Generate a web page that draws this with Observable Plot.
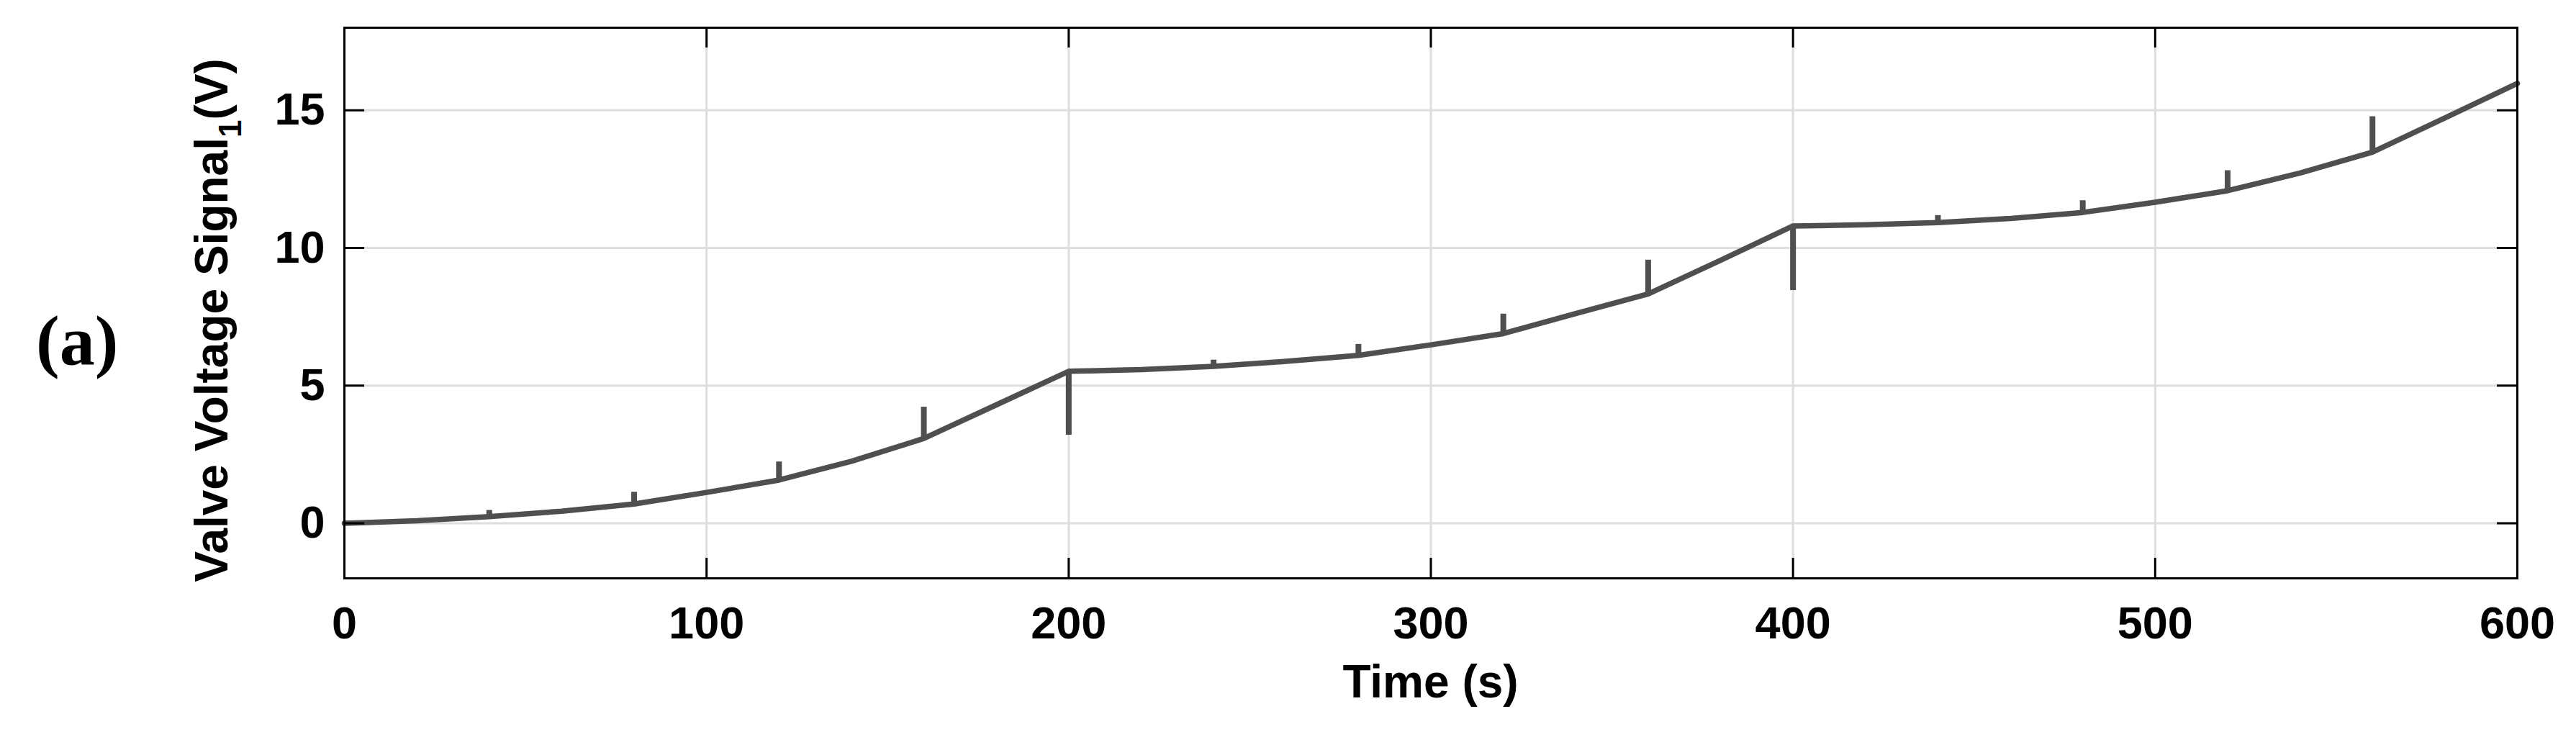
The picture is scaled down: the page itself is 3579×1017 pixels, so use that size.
<!DOCTYPE html>
<html>
<head>
<meta charset="utf-8">
<script src="https://cdn.jsdelivr.net/npm/d3@7"></script>
<script src="https://cdn.jsdelivr.net/npm/@observablehq/plot@0.6"></script>
<style>
  html, body { margin: 0; padding: 0; background: #fff; }
  #chart svg { display: block; }
</style>
</head>
<body>
<div id="chart"></div>
<script>
// ---- data ----
const time    = [0, 20, 40, 60, 80, 100, 120, 140, 160, 180, 200, 220, 240, 260, 280, 300, 320, 340, 360, 380, 400, 420, 440, 460, 480, 500, 520, 540, 560, 580, 600];
const voltage = [0, 0.09, 0.24, 0.44, 0.70, 1.12, 1.57, 2.25, 3.08, 4.30, 5.52, 5.58, 5.70, 5.88, 6.10, 6.48, 6.89, 7.62, 8.33, 9.55, 10.80, 10.84, 10.92, 11.07, 11.29, 11.66, 12.08, 12.72, 13.48, 14.72, 15.98];
const spikeTime  = [40, 80, 120, 160, 200, 240, 280, 320, 360, 400, 440, 480, 520, 560];
const spikeValue = [0.47, 1.13, 2.23, 4.22, 3.20, 5.93, 6.50, 7.60, 9.56, 8.46, 11.18, 11.72, 12.81, 14.77];
const xTicks = [0, 100, 200, 300, 400, 500, 600];
const yTicks = [0, 5, 10, 15];
const xDomain = [0, 600];
const yDomain = [-2, 18];
const xLabel = "Time (s)";
const yLabelMain = "Valve Voltage Signal";
const yLabelSub = "1";
const yLabelUnit = "(V)";
const panelLabel = "(a)";

// ---- build tables ----
const curve = time.map((t, i) => ({t, v: voltage[i]}));
const spikes = spikeTime.map((t, i) => ({t, base: voltage[time.indexOf(t)], top: spikeValue[i]}));

const W = 3579, H = 1017;
const mL = 478, mR = 82, mT = 38, mB = 214;
const innerW = W - mL - mR, innerH = H - mT - mB;
const tickLen = 28;
const lineColor = "#4f4f4f";

const plot = Plot.plot({
  width: W, height: H,
  marginLeft: mL, marginRight: mR, marginTop: mT, marginBottom: mB,
  x: {domain: xDomain},
  y: {domain: yDomain},
  style: {fontFamily: "'Liberation Sans', Arial, Helvetica, sans-serif", fontSize: "63px", fontWeight: "bold", color: "#000", background: "#fff"},
  marks: [
    Plot.gridX({ticks: xTicks, stroke: "#dedede", strokeOpacity: 1, strokeWidth: 3}),
    Plot.gridY({ticks: yTicks, stroke: "#dedede", strokeOpacity: 1, strokeWidth: 3}),
    Plot.line(curve, {x: "t", y: "v", stroke: lineColor, strokeWidth: 7.5, strokeLinejoin: "round"}),
    Plot.ruleX(spikes, {x: "t", y1: "base", y2: "top", stroke: lineColor, strokeWidth: 8}),
    // inward ticks on all four sides
    Plot.ruleX(xTicks, {stroke: "#000", strokeWidth: 3, insetTop: innerH - tickLen}),
    Plot.ruleX(xTicks, {stroke: "#000", strokeWidth: 3, insetBottom: innerH - tickLen}),
    Plot.ruleY(yTicks, {stroke: "#000", strokeWidth: 3, insetRight: innerW - tickLen}),
    Plot.ruleY(yTicks, {stroke: "#000", strokeWidth: 3, insetLeft: innerW - tickLen}),
    Plot.axisX({ticks: xTicks, tickSize: 0, tickPadding: 39, label: null, tickFormat: d => String(d)}),
    Plot.axisY({ticks: yTicks, tickSize: 0, tickPadding: 27, label: null, tickFormat: d => String(d)}),
    Plot.frame({stroke: "#000", strokeWidth: 3})
  ]
});

const svg = d3.select(plot);
svg.append("text")
  .attr("x", mL + innerW / 2).attr("y", 969)
  .attr("text-anchor", "middle")
  .style("font-size", "64px").style("font-weight", "bold")
  .attr("fill", "#000")
  .text(xLabel);

const yt = svg.append("text")
  .attr("transform", "translate(316,445) rotate(-90)")
  .attr("text-anchor", "middle")
  .style("font-size", "64px").style("font-weight", "bold")
  .attr("fill", "#000");
yt.append("tspan").text(yLabelMain);
yt.append("tspan").attr("dy", 19).style("font-size", "44px").text(yLabelSub);
yt.append("tspan").attr("dy", -19).text(yLabelUnit);

svg.append("text")
  .attr("x", 50).attr("y", 506)
  .attr("text-anchor", "start")
  .style("font-family", "'Liberation Serif', 'Times New Roman', serif")
  .style("font-size", "98px").style("font-weight", "bold")
  .attr("fill", "#000")
  .text(panelLabel);

document.getElementById("chart").appendChild(plot);
</script>
</body>
</html>
